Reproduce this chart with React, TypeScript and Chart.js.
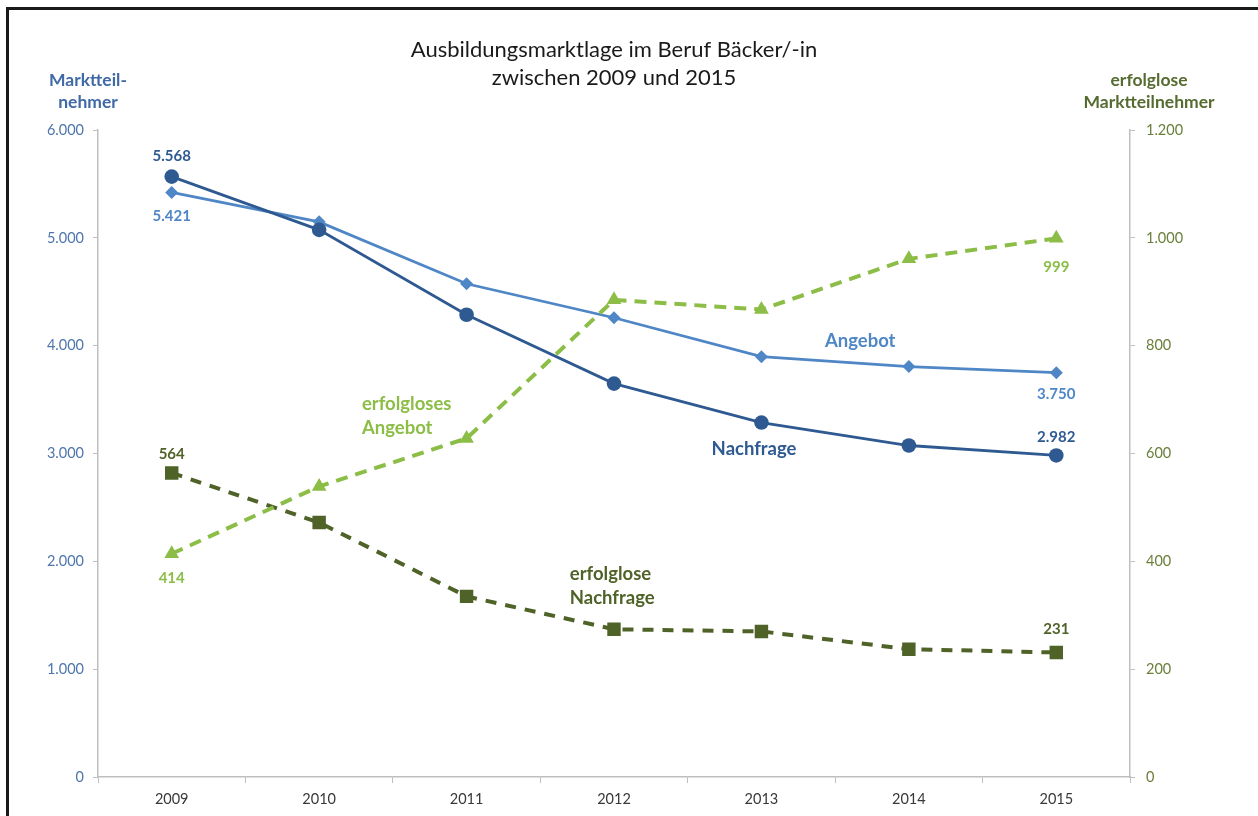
import React, { useEffect, useRef } from "react";
import { Chart, registerables } from "chart.js";

Chart.register(...registerables);

const years = ["2009", "2010", "2011", "2012", "2013", "2014", "2015"];
const angebot = [5421, 5148, 4574, 4259, 3898, 3806, 3750];
const nachfrage = [5568, 5074, 4287, 3648, 3287, 3074, 2982];
const erfolglosesAngebot = [414, 539, 628, 885, 867, 961, 999];
const erfolgloseNachfrage = [564, 472, 335, 274, 270, 237, 231];

const leftTicks = [0, 1000, 2000, 3000, 4000, 5000, 6000];
const rightTicks = [0, 200, 400, 600, 800, 1000, 1200];

const titleLines = ["Ausbildungsmarktlage im Beruf Bäcker/-in", "zwischen 2009 und 2015"];
const leftAxisTitle = ["Marktteil-", "nehmer"];
const rightAxisTitle = ["erfolglose", "Marktteilnehmer"];

const C_ANG = "#4F86C6";
const C_NACH = "#2E5A91";
const C_EANG = "#8CBD47";
const C_ENACH = "#4F6228";

const FONT = "Lato, 'Open Sans', sans-serif";

const fmt = (v: number) => {
  const s = Math.round(v).toString();
  return s.replace(/\B(?=(\d{3})+(?!\d))/g, ".");
};

// data labels: [datasetIndex, pointIndex, dy, color]
const valueLabels: [number, number, number, string][] = [
  [1, 0, -20, C_NACH],
  [0, 0, 24, C_ANG],
  [0, 6, 22, C_ANG],
  [1, 6, -18, C_NACH],
  [3, 6, 29, C_EANG],
  [3, 0, 24, C_EANG],
  [2, 0, -19, C_ENACH],
  [2, 6, -23, C_ENACH],
];

// series annotations: lines, category position, value, axis, color, align
const seriesNotes: { lines: string[]; xi: number; v: number; axis: string; color: string; align: CanvasTextAlign }[] = [
  { lines: ["Angebot"], xi: 4.67, v: 4046, axis: "y", color: C_ANG, align: "center" },
  { lines: ["Nachfrage"], xi: 3.95, v: 3046, axis: "y", color: C_NACH, align: "center" },
  { lines: ["erfolgloses", "Angebot"], xi: 1.29, v: 692, axis: "y1", color: C_EANG, align: "left" },
  { lines: ["erfolglose", "Nachfrage"], xi: 2.7, v: 376, axis: "y1", color: C_ENACH, align: "left" },
];

const drawPlugin = {
  id: "decor",
  beforeDraw(chart: any) {
    const ctx = chart.ctx;
    ctx.save();
    ctx.fillStyle = "#ffffff";
    ctx.fillRect(0, 0, chart.width, chart.height);
    ctx.strokeStyle = "#1a1a1a";
    ctx.lineWidth = 3;
    ctx.strokeRect(7.5, 8.5, chart.width + 20, chart.height + 20);
    ctx.restore();
  },
  afterDraw(chart: any) {
    const ctx = chart.ctx;
    const area = chart.chartArea;
    ctx.save();
    ctx.textBaseline = "middle";
    // title
    ctx.fillStyle = "#1a1a1a";
    ctx.font = `22px ${FONT}`;
    ctx.textAlign = "center";
    const cx = (area.left + area.right) / 2;
    ctx.fillText(titleLines[0], cx, 50);
    ctx.fillText(titleLines[1], cx, 78);
    // axis titles
    ctx.font = `bold 17.5px ${FONT}`;
    ctx.fillStyle = "#3F6AA6";
    ctx.fillText(leftAxisTitle[0], 88, 80);
    ctx.fillText(leftAxisTitle[1], 88, 102);
    ctx.fillStyle = "#556B2F";
    ctx.fillText(rightAxisTitle[0], 1149, 80);
    ctx.fillText(rightAxisTitle[1], 1149, 102);
    // value labels
    ctx.font = `bold 15px ${FONT}`;
    ctx.textAlign = "center";
    valueLabels.forEach(([di, pi, dy, color]) => {
      const el = chart.getDatasetMeta(di).data[pi];
      const val = chart.data.datasets[di].data[pi];
      ctx.fillStyle = color;
      ctx.fillText(fmt(val), el.x, el.y + dy);
    });
    // series notes
    ctx.font = `bold 18.5px ${FONT}`;
    seriesNotes.forEach((n) => {
      const x = chart.scales.x.getPixelForValue(n.xi);
      const y = chart.scales[n.axis].getPixelForValue(n.v);
      ctx.fillStyle = n.color;
      ctx.textAlign = n.align;
      n.lines.forEach((l, i) => ctx.fillText(l, x, y + i * 24));
    });
    ctx.restore();
  },
};

export default function App() {
  const ref = useRef<HTMLCanvasElement | null>(null);
  useEffect(() => {
    if (!ref.current) return;
    const chart = new Chart(ref.current, {
      type: "line",
      data: {
        labels: years,
        datasets: [
          {
            label: "Angebot",
            data: angebot,
            yAxisID: "y",
            borderColor: C_ANG,
            backgroundColor: C_ANG,
            borderWidth: 2.8,
            pointStyle: "rectRot",
            pointRadius: 6.5,
            pointBorderWidth: 0,
            order: 4,
          },
          {
            label: "Nachfrage",
            data: nachfrage,
            yAxisID: "y",
            borderColor: C_NACH,
            backgroundColor: C_NACH,
            borderWidth: 2.8,
            pointStyle: "circle",
            pointRadius: 7.3,
            pointBorderWidth: 0,
            order: 3,
          },
          {
            label: "erfolglose Nachfrage",
            data: erfolgloseNachfrage,
            yAxisID: "y1",
            borderColor: C_ENACH,
            backgroundColor: C_ENACH,
            borderWidth: 4,
            borderDash: [11, 9],
            pointStyle: "rect",
            pointRadius: 9.5,
            pointBorderWidth: 0,
            order: 2,
          },
          {
            label: "erfolgloses Angebot",
            data: erfolglosesAngebot,
            yAxisID: "y1",
            borderColor: C_EANG,
            backgroundColor: C_EANG,
            borderWidth: 4,
            borderDash: [12, 8],
            pointStyle: "triangle",
            pointRadius: 8.5,
            pointBorderWidth: 0,
            order: 1,
          },
        ],
      },
      options: {
        animation: false,
        responsive: false,
        layout: { padding: { top: 130, left: 0, right: 0, bottom: 0 } },
        plugins: { legend: { display: false }, title: { display: false }, tooltip: { enabled: false } },
        scales: {
          x: {
            type: "category",
            offset: true,
            grid: { offset: true, drawOnChartArea: false, tickLength: 6, color: "#BFBFBF", lineWidth: 1 },
            border: { color: "#BFBFBF", width: 1.5 },
            ticks: { color: "#383838", font: { family: FONT, size: 14.5 }, padding: 8, maxRotation: 0 },
            afterFit: (s: any) => { s.height = 39; },
          },
          y: {
            type: "linear",
            position: "left",
            min: 0,
            max: 6000,
            afterBuildTicks: (s: any) => { s.ticks = leftTicks.map((v) => ({ value: v })); },
            grid: { drawOnChartArea: false, tickLength: 5, color: "#BFBFBF" },
            border: { color: "#BFBFBF", width: 1.5 },
            ticks: { color: "#4F76AD", font: { family: FONT, size: 14.5 }, padding: 9, callback: (v: any) => fmt(Number(v)) },
            afterFit: (s: any) => { s.width = 98; },
          },
          y1: {
            type: "linear",
            position: "right",
            min: 0,
            max: 1200,
            afterBuildTicks: (s: any) => { s.ticks = rightTicks.map((v) => ({ value: v })); },
            grid: { drawOnChartArea: false, tickLength: 5, color: "#BFBFBF" },
            border: { color: "#BFBFBF", width: 1.5 },
            ticks: { color: "#6A7F3A", font: { family: FONT, size: 14.5 }, padding: 11, callback: (v: any) => fmt(Number(v)) },
            afterFit: (s: any) => { s.width = 128; },
          },
        },
      },
      plugins: [drawPlugin],
    } as any);
    return () => chart.destroy();
  }, []);
  return (
    <div style={{ position: "fixed", left: 0, top: 0, width: 1258, height: 816, background: "#fff" }}>
      <canvas ref={ref} width={1258} height={816} style={{ display: "block" }} />
    </div>
  );
}
